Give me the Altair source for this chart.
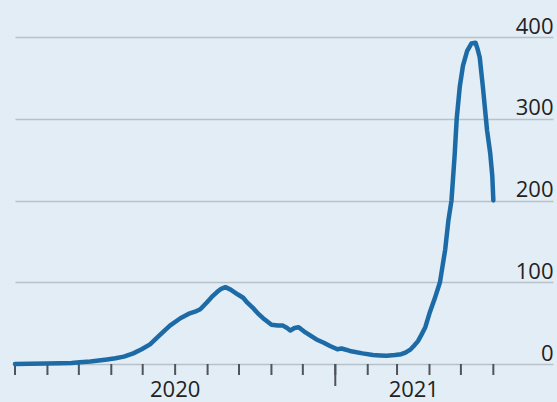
import altair as alt
import pandas as pd

# 7-day average values (thousands)
dates = [
    "2020-03-01", "2020-03-15", "2020-03-31", "2020-04-13", "2020-04-24",
    "2020-05-02", "2020-05-12", "2020-05-22", "2020-05-28", "2020-06-05",
    "2020-06-13", "2020-06-22", "2020-06-30", "2020-07-08", "2020-07-17",
    "2020-07-27", "2020-08-06", "2020-08-15", "2020-08-20", "2020-08-25",
    "2020-08-31", "2020-09-05", "2020-09-10", "2020-09-14", "2020-09-18",
    "2020-09-23", "2020-09-30", "2020-10-05", "2020-10-09", "2020-10-14",
    "2020-10-19", "2020-10-24", "2020-10-29", "2020-11-01", "2020-11-07",
    "2020-11-12", "2020-11-16", "2020-11-19", "2020-11-23", "2020-11-27",
    "2020-12-02", "2020-12-08", "2020-12-14", "2020-12-21", "2020-12-27",
    "2021-01-03", "2021-01-07", "2021-01-15", "2021-01-27", "2021-02-06",
    "2021-02-13", "2021-02-19", "2021-02-27", "2021-03-05", "2021-03-09",
    "2021-03-14", "2021-03-17", "2021-03-21", "2021-03-24", "2021-03-28",
    "2021-04-01", "2021-04-06", "2021-04-11", "2021-04-16", "2021-04-19",
    "2021-04-22", "2021-04-25", "2021-04-27", "2021-04-30", "2021-05-03",
    "2021-05-07", "2021-05-11", "2021-05-15", "2021-05-17", "2021-05-19",
    "2021-05-22", "2021-05-26", "2021-05-29", "2021-05-31", "2021-06-01",
]
values = [
    0, 0.2, 0.5, 0.8, 1.2,
    2, 3, 4.5, 5.5, 7,
    9, 13, 18, 24, 35,
    47, 56, 62, 64, 67,
    75, 82, 88, 92, 94,
    91, 85, 81, 75, 69,
    62, 56, 51, 48, 47,
    47, 44, 41, 44, 45,
    40, 35, 30, 26, 22,
    18, 19, 16, 13, 11,
    10.5, 10, 11, 12, 14,
    18, 22, 28, 35, 45,
    62, 80, 100, 140, 175,
    200, 255, 300, 340, 365,
    383, 392, 393, 385, 375,
    339, 286, 258, 230, 200,
]

y_ticks = [0, 100, 200, 300, 400]
month_tick_dates = [
    "2020-03-01", "2020-04-01", "2020-05-01", "2020-06-01", "2020-07-01",
    "2020-08-01", "2020-09-01", "2020-10-01", "2020-11-01", "2020-12-01",
    "2021-01-01", "2021-02-01", "2021-03-01", "2021-04-01", "2021-05-01",
    "2021-06-01",
]
year_start_dates = ["2021-01-01"]
year_labels = ["2020", "2021"]
year_label_dates = ["2020-08-01", "2021-03-17"]
x_domain = ["2020-03-01", "2021-07-28"]

FONT = "Open Sans, sans-serif"
W, H = 538, 327
TICK_COLOR = "#4f5459"


def ms(d):
    return int(pd.Timestamp(d, tz="UTC").value // 10**6)


df = pd.DataFrame({"date": [ms(d) for d in dates], "value": values})
labels_df = pd.DataFrame({"date": [ms(d) for d in year_label_dates], "label": year_labels})
ystart_df = pd.DataFrame({"date": [ms(d) for d in year_start_dates]})
mticks_df = pd.DataFrame({"date": [ms(d) for d in month_tick_dates]})

x_scale = alt.Scale(type="utc", domain=[ms(d) for d in x_domain])
y_scale = alt.Scale(domain=[0, 400], nice=False, zero=True)

# month ticks below the baseline
month_ticks = alt.Chart(mticks_df).mark_rule(color=TICK_COLOR, strokeWidth=2).encode(
    x=alt.X("date:T", scale=x_scale, axis=None),
    y=alt.value(H),
    y2=alt.value(H + 11),
)

# longer tick marking the start of a new year
year_tick = alt.Chart(ystart_df).mark_rule(color=TICK_COLOR, strokeWidth=2).encode(
    x=alt.X("date:T", scale=x_scale, axis=None),
    y=alt.value(H),
    y2=alt.value(H + 22),
)

line = alt.Chart(df).mark_line(
    color="#1c6ba7", strokeWidth=4.5, strokeCap="round", strokeJoin="round"
).encode(
    x=alt.X("date:T", scale=x_scale,
            axis=alt.Axis(labels=False, ticks=False, grid=False, title=None,
                          domainColor="#7b8288", domainWidth=2.5)),
    y=alt.Y("value:Q", scale=y_scale,
            axis=alt.Axis(orient="right", values=y_ticks, grid=True, title=None,
                          gridColor="#b7c1ca", gridWidth=1.5,
                          domain=False, ticks=False, tickSize=0,
                          labelAlign="right", labelBaseline="alphabetic",
                          labelPadding=0, labelOffset=-4,
                          labelFont=FONT, labelFontSize=22, labelColor="#222222")),
)

years = alt.Chart(labels_df).mark_text(
    font=FONT, fontSize=22, color="#222222", align="center", baseline="alphabetic"
).encode(
    x=alt.X("date:T", scale=x_scale, axis=None),
    y=alt.value(H + 33),
    text="label:N",
)

chart = alt.layer(month_ticks, year_tick, line, years).properties(
    width=W, height=H,
    autosize=alt.AutoSizeParams(type="none"),
    padding={"left": 15, "top": 37, "right": 4, "bottom": 38},
    background="#e2edf5",
).configure_view(stroke=None)

chart.save("out.html", embed_options={"renderer": "svg", "actions": False})
